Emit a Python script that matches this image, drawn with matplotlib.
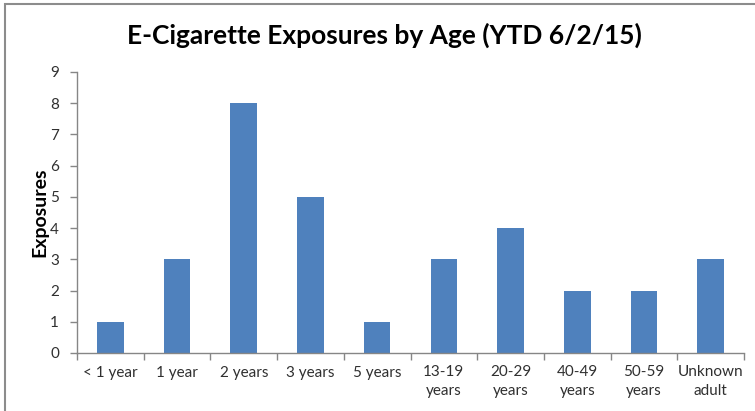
import matplotlib.pyplot as plt
from matplotlib.patches import Rectangle

categories = ["< 1 year", "1 year", "2 years", "3 years", "5 years",
              "13-19\nyears", "20-29\nyears", "40-49\nyears", "50-59\nyears", "Unknown\nadult"]
exposures = [1, 3, 8, 5, 1, 3, 4, 2, 2, 3]

plt.rcParams['font.family'] = ['Lato', 'DejaVu Sans']

fig = plt.figure(figsize=(7.55, 4.11), dpi=100)
ax = fig.add_axes([77/755, 1-353/411, (744-77)/755, (353-72)/411])

x = list(range(len(categories)))
ax.bar(x, exposures, width=0.4, color="#4F81BD", zorder=2)

ax.set_xlim(-0.5, len(categories)-0.5)
ax.set_ylim(0, 9)
ax.set_yticks(range(10))
ax.set_xticks(x)
ax.set_xticklabels(categories, fontsize=11, color="#303030", linespacing=1.4)
ax.set_xticks([i-0.5 for i in range(len(categories)+1)], minor=True)
ax.tick_params(axis='x', which='major', length=0, pad=9)
ax.tick_params(axis='x', which='minor', length=5, color="#868686", width=1)
ax.tick_params(axis='y', length=5, color="#868686", width=1, labelsize=11,
               labelcolor="#303030", pad=8)

for s in ["top", "right"]:
    ax.spines[s].set_visible(False)
for s in ["left", "bottom"]:
    ax.spines[s].set_color("#868686")
    ax.spines[s].set_linewidth(1)

ax.set_ylabel("Exposures", fontsize=14, fontweight="bold", color="black", labelpad=1)
fig.text(384/755, 1-35/411, "E-Cigarette Exposures by Age (YTD 6/2/15)",
         ha="center", va="center", fontsize=19, fontweight="bold")

# chart frame (right and bottom edges cut off in the reference)
fig.patches.append(Rectangle((5/755, -0.1), 1.2, 1-3.5/411+0.1,
                             transform=fig.transFigure, fill=False,
                             edgecolor="#8C8C8C", linewidth=1.5))

plt.savefig("out.png", dpi=100)
